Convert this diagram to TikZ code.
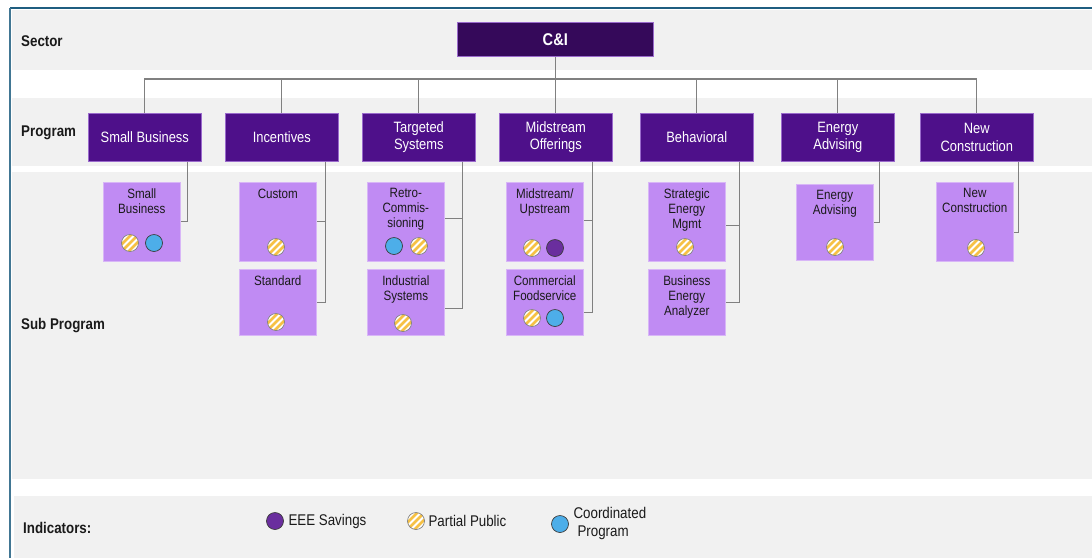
\documentclass[tikz,border=0pt]{standalone}
\usepackage{fontspec}
\setmainfont{Liberation Sans}[FakeStretch=0.86]
\usetikzlibrary{calc}

\definecolor{bandgray}{HTML}{F1F1F1}
\definecolor{frameblue}{HTML}{1F5E80}
\definecolor{sectorfill}{HTML}{35095A}
\definecolor{progfill}{HTML}{4E108A}
\definecolor{progedge}{HTML}{9A6ACC}
\definecolor{subfill}{HTML}{C08BF3}
\definecolor{subedge}{HTML}{D8B6F7}
\definecolor{connector}{HTML}{808080}
\definecolor{stripeyellow}{HTML}{F6C145}
\definecolor{coordblue}{HTML}{4DAEE9}
\definecolor{eeepurple}{HTML}{6A2E9E}
\definecolor{ink}{HTML}{1A1A1A}

\begin{document}
\begin{tikzpicture}[x=1pt,y=-1pt,
  band/.style={fill=bandgray, draw=none},
  rowlabel/.style={anchor=west, inner sep=0pt, text=ink,
    font=\bfseries\fontsize{15.5}{18}\selectfont},
  sectorbox/.style={draw=progedge, line width=0.6pt, fill=sectorfill, text=white,
    anchor=north west, minimum width=196pt, minimum height=34pt, inner sep=0pt,
    font=\bfseries\fontsize{17}{20}\selectfont},
  progbox/.style={draw=progedge, line width=0.6pt, fill=progfill, text=white,
    anchor=north west, minimum width=113pt, minimum height=48pt, inner sep=0pt,
    align=center, font=\fontsize{15}{17.5}\selectfont},
  subbox/.style={draw=subedge, line width=0.6pt, fill=subfill, anchor=north west,
    minimum width=77pt, minimum height=79pt, inner sep=0pt},
  shortbox/.style={subbox, minimum height=66pt},
  subtext/.style={label={[anchor=north, yshift=-6.5pt, inner sep=0pt, align=center,
    text=ink, font=\fontsize{13.5}{15}\selectfont]north:#1}},
  conn/.style={draw=connector, line width=1.1pt},
  indicator/.style={circle, minimum size=17pt, inner sep=0pt, line width=0.7pt},
  eee/.style={indicator, draw=ink!85, fill=eeepurple},
  coordprog/.style={indicator, draw=ink!85, fill=coordblue},
  partial/.style={indicator, draw=gray, fill=white,
    path picture={
      \foreach \k in {-21,-14,...,21}
        \draw[draw=stripeyellow, line width=2.6pt]
          ($(path picture bounding box.center)+(\k pt-14pt,-14pt)$) -- ++(28pt,28pt);
    }},
  legtext/.style={anchor=west, inner sep=0pt, text=ink,
    font=\fontsize{15.5}{18}\selectfont},
]
\useasboundingbox (0,0) rectangle (1092,558);

% background bands
\fill[white] (0,0) rectangle (1092,558);
\path[band] (12,10) rectangle (1092,70);
\path[band] (12,98) rectangle (1092,166);
\path[band] (12,172) rectangle (1092,479);
\path[band] (14,496) rectangle (1092,558);

% frame
\draw[frameblue, line width=2pt] (10,8) -- (1092,8);
\draw[frameblue!85, line width=1.5pt] (10,8) -- (10,558);

% row labels
\node[rowlabel] (lab-sector) at (21,41) {Sector};
\node[rowlabel] (lab-program) at (21,133) {Program};
\node[rowlabel] (lab-sub) at (21,326) {Sub Program};
\node[rowlabel] (lab-ind) at (23,528) {Indicators:};

% sector
\node[sectorbox] (ci) at (457,22) {C\&I};

% programs
\node[progbox] (p1) at (88,113) {Small Business};
\node[progbox] (p2) at (225,113) {Incentives};
\node[progbox] (p3) at (362,113) {Targeted\\Systems};
\node[progbox] (p4) at (499,113) {Midstream\\Offerings};
\node[progbox] (p5) at (640,113) {Behavioral};
\node[progbox] (p6) at (781,113) {Energy\\Advising};
\node[progbox] (p7) at (920,113) {New\\Construction};

% sub programs
\node[subbox, subtext={Small\\Business}] (s11) at (103,182) {};
\node[subbox, subtext={Custom}] (s21) at (239,182) {};
\node[shortbox, subtext={Standard}] (s22) at (239,269) {};
\node[subbox, subtext={Retro-\\Commis-\\sioning}] (s31) at (367,182) {};
\node[shortbox, subtext={Industrial\\Systems}] (s32) at (367,269) {};
\node[subbox, subtext={Midstream/\\Upstream}] (s41) at (506,182) {};
\node[shortbox, subtext={Commercial\\Foodservice}] (s42) at (506,269) {};
\node[subbox, subtext={Strategic\\Energy\\Mgmt}] (s51) at (648,182) {};
\node[shortbox, subtext={Business\\Energy\\Analyzer}] (s52) at (648,269) {};
\node[subbox, minimum height=76pt, subtext={Energy\\Advising}] (s61) at (796,184) {};
\node[subbox, subtext={New\\Construction}] (s71) at (936,182) {};

% indicators inside sub programs
\node[partial] (s11-a) at (130,243) {};
\node[coordprog] (s11-b) at (154,243) {};
\node[partial] (s21-a) at (276,247) {};
\node[partial] (s22-a) at (276,322) {};
\node[coordprog] (s31-a) at (394,246) {};
\node[partial] (s31-b) at (419,246) {};
\node[partial] (s32-a) at (403,323) {};
\node[partial] (s41-a) at (532,248) {};
\node[eee] (s41-b) at (555,248) {};
\node[partial] (s42-a) at (532,318) {};
\node[coordprog] (s42-b) at (555,318) {};
\node[partial] (s51-a) at (685,247) {};
\node[partial] (s61-a) at (835,247) {};
\node[partial] (s71-a) at (976,248) {};

% sector to programs
\coordinate (bus) at (0,79);
\draw[conn] (p1.north) |- (p7.north |- bus) -- (p7.north);
\foreach \p in {p2,p3,p4,p5,p6}
  \draw[conn] (\p.north) -- (\p.north |- bus);
\draw[conn] (ci.south) -- (ci.south |- bus);

% programs to sub programs
\draw[conn] ([xshift=-14pt]p1.south east) |- (s11.east);
\draw[conn] ([xshift=-13pt]p2.south east) |- (s21.east);
\draw[conn] ([xshift=-13pt]p2.south east) |- (s22.east);
\draw[conn] ([xshift=-13pt]p3.south east) |- ([yshift=3.5pt]s31.east);
\draw[conn] ([xshift=-13pt]p3.south east) |- ([yshift=-6pt]s32.east);
\draw[conn] ([xshift=-20pt]p4.south east) |- ([yshift=1.5pt]s41.east);
\draw[conn] ([xshift=-20pt]p4.south east) |- ([yshift=-10pt]s42.east);
\draw[conn] ([xshift=-14pt]p5.south east) |- ([yshift=-3.5pt]s51.east);
\draw[conn] ([xshift=-14pt]p5.south east) |- (s52.east);
\draw[conn] ([xshift=-15pt]p6.south east) |- (s61.east);
\draw[conn] ([xshift=-15pt]p7.south east) |- ([yshift=-10.5pt]s71.east);

% legend
\node[eee] (leg1) at (275,521) {};
\node[legtext] (leg1-t) at ([xshift=4.5pt]leg1.east) {EEE Savings};
\node[partial] (leg2) at (416,521) {};
\node[legtext] (leg2-t) at ([xshift=3.5pt]leg2.east) {Partial Public};
\node[coordprog] (leg3) at (560,524) {};
\node[legtext, align=left] (leg3-t) at ([xshift=4.5pt, yshift=1pt]leg3.east) {Coordinated\\\hspace*{4pt}Program};
\end{tikzpicture}
\end{document}
